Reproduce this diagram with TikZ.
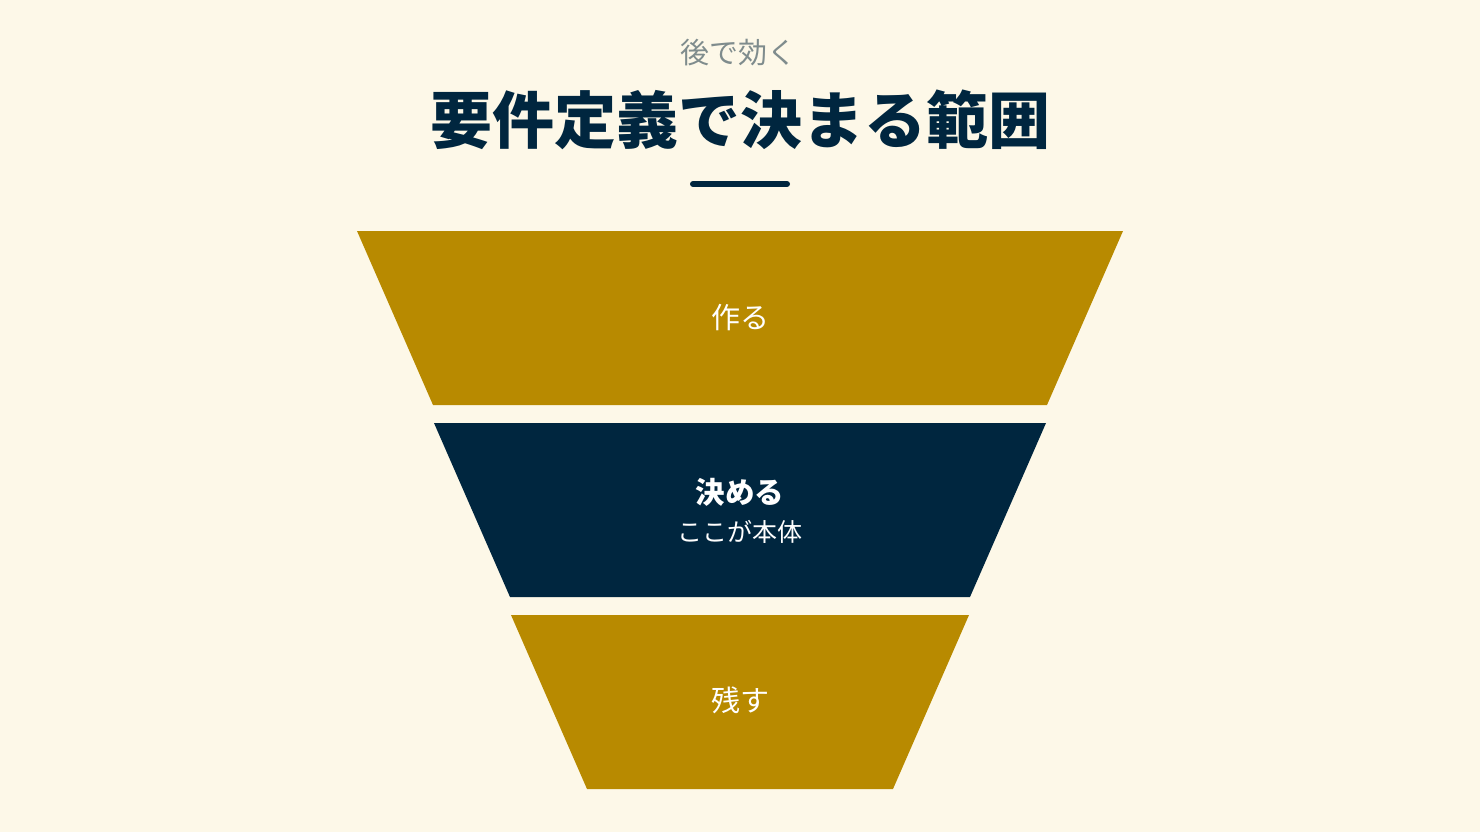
\documentclass[tikz,border=0pt]{standalone}
\usepackage{fontspec}
\newfontfamily\cjk{Noto Sans CJK JP}
\definecolor{bg}{HTML}{FDF8E8}
\definecolor{gold}{HTML}{B88A00}
\definecolor{navy}{HTML}{00263F}
\definecolor{subgray}{HTML}{7F8C8D}
\tikzset{
  seg/.style={draw=none},
  lbl/.style={text=white, font=\cjk\fontsize{29}{34}\selectfont, inner sep=0pt},
}
\begin{document}
\begin{tikzpicture}[x=1pt,y=-1pt]
\fill[bg] (0,0) rectangle (1480,832);
\useasboundingbox (0,0) rectangle (1480,832);
\node[text=subgray, font=\cjk\fontsize{29}{34}\selectfont, inner sep=0pt] (sub) at (738,53) {後で効く};
\node[text=navy, font=\cjk\bfseries\fontsize{62}{70}\selectfont, inner sep=0pt] (title) at (740,120) {要件定義で決まる範囲};
\draw[navy, line width=6, line cap=round] (693,184) -- (787,184);
\fill[gold] (357,231) -- (1123,231) -- (1047,405) -- (433,405) -- cycle;
\fill[navy] (434,423) -- (1046,423) -- (970,597) -- (510,597) -- cycle;
\fill[gold] (511,615) -- (969,615) -- (893,789) -- (587,789) -- cycle;
\node[lbl] (make) at (740,318) {作る};
\node[lbl, font=\cjk\bfseries\fontsize{29.5}{34}\selectfont] (decide) at (740,492) {決める};
\node[lbl, font=\cjk\fontsize{25}{30}\selectfont] (core) at (740,532) {ここが本体};
\node[lbl] (keep) at (740,700) {残す};
\end{tikzpicture}
\end{document}
